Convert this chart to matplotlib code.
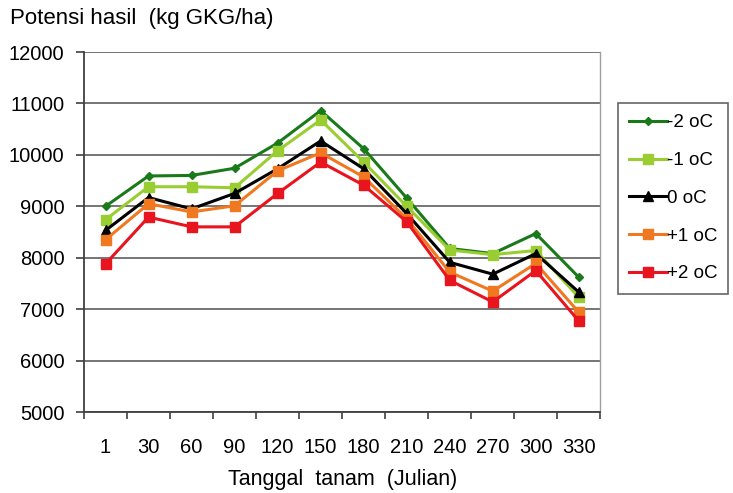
import matplotlib.pyplot as plt
import numpy as np

plt.rcParams['font.family'] = ['Liberation Sans', 'DejaVu Sans']

# data
tanggal = ['1', '30', '60', '90', '120', '150', '180', '210', '240', '270', '300', '330']
min2 = [9000, 9590, 9600, 9740, 10230, 10860, 10120, 9160, 8180, 8080, 8470, 7620]
min1 = [8740, 9380, 9380, 9360, 10080, 10680, 9860, 9000, 8150, 8060, 8140, 7230]
nol = [8530, 9170, 8950, 9250, 9730, 10270, 9730, 8860, 7910, 7680, 8080, 7330]
plus1 = [8350, 9050, 8890, 9010, 9690, 10040, 9570, 8760, 7720, 7350, 7890, 6940]
plus2 = [7880, 8790, 8600, 8600, 9250, 9860, 9410, 8700, 7560, 7140, 7750, 6770]
labels = ['-2 oC', '-1 oC', '0 oC', '+1 oC', '+2 oC']

fig = plt.figure(figsize=(7.33, 4.93), dpi=100)
ax = fig.add_axes([0.1146, 0.1643, 0.7044, 0.7302])

x = np.arange(len(tanggal))
ax.plot(x, min2, color='#1a7a1a', marker='D', ms=4.5, lw=2.2, label=labels[0])
ax.plot(x, min1, color='#9acd32', marker='s', ms=7, lw=2.2, label=labels[1])
ax.plot(x, nol, color='black', marker='^', ms=7, lw=2.2, label=labels[2])
ax.plot(x, plus1, color='#f07820', marker='s', ms=7, lw=2.2, label=labels[3])
ax.plot(x, plus2, color='#e8141e', marker='s', ms=7, lw=2.2, label=labels[4])

ax.set_xlim(-0.5, len(tanggal) - 0.5)
ax.set_ylim(5000, 12000)
ax.set_yticks(range(5000, 12001, 1000))
ax.set_xticks(x)
ax.set_xticklabels(tanggal)
ax.set_xticks(np.arange(-0.5, len(tanggal)), minor=True)
ax.tick_params(axis='x', which='major', length=0, pad=19, labelsize=14.5)
ax.tick_params(axis='x', which='minor', length=5, width=1.2, color='#404040')
ax.tick_params(axis='y', length=6, width=1.2, color='#404040', pad=8, labelsize=14.5)
ax.yaxis.grid(True, color='#6a6a6a', lw=1.3)
ax.set_axisbelow(True)

ax.spines['right'].set_color('#a0a0a0')
ax.spines['right'].set_linewidth(1)
ax.spines['top'].set_visible(False)
for s in ['left', 'bottom']:
    ax.spines[s].set_color('#404040')
    ax.spines[s].set_linewidth(1.3)

ax.set_xlabel('Tanggal  tanam  (Julian)', fontsize=15.5, labelpad=8)
fig.text(0.014, 0.962, 'Potensi hasil  (kg GKG/ha)', fontsize=16, va='center', ha='left')

leg = fig.legend(loc='upper left', bbox_to_anchor=(0.843, 0.791), fontsize=13.5, frameon=True,
                 fancybox=False, edgecolor='#404040', handlelength=2.0, handletextpad=0.0,
                 labelspacing=1.1, borderpad=0.6, borderaxespad=0)
leg.get_frame().set_linewidth(1.2)

fig.savefig('out.png', dpi=100)
